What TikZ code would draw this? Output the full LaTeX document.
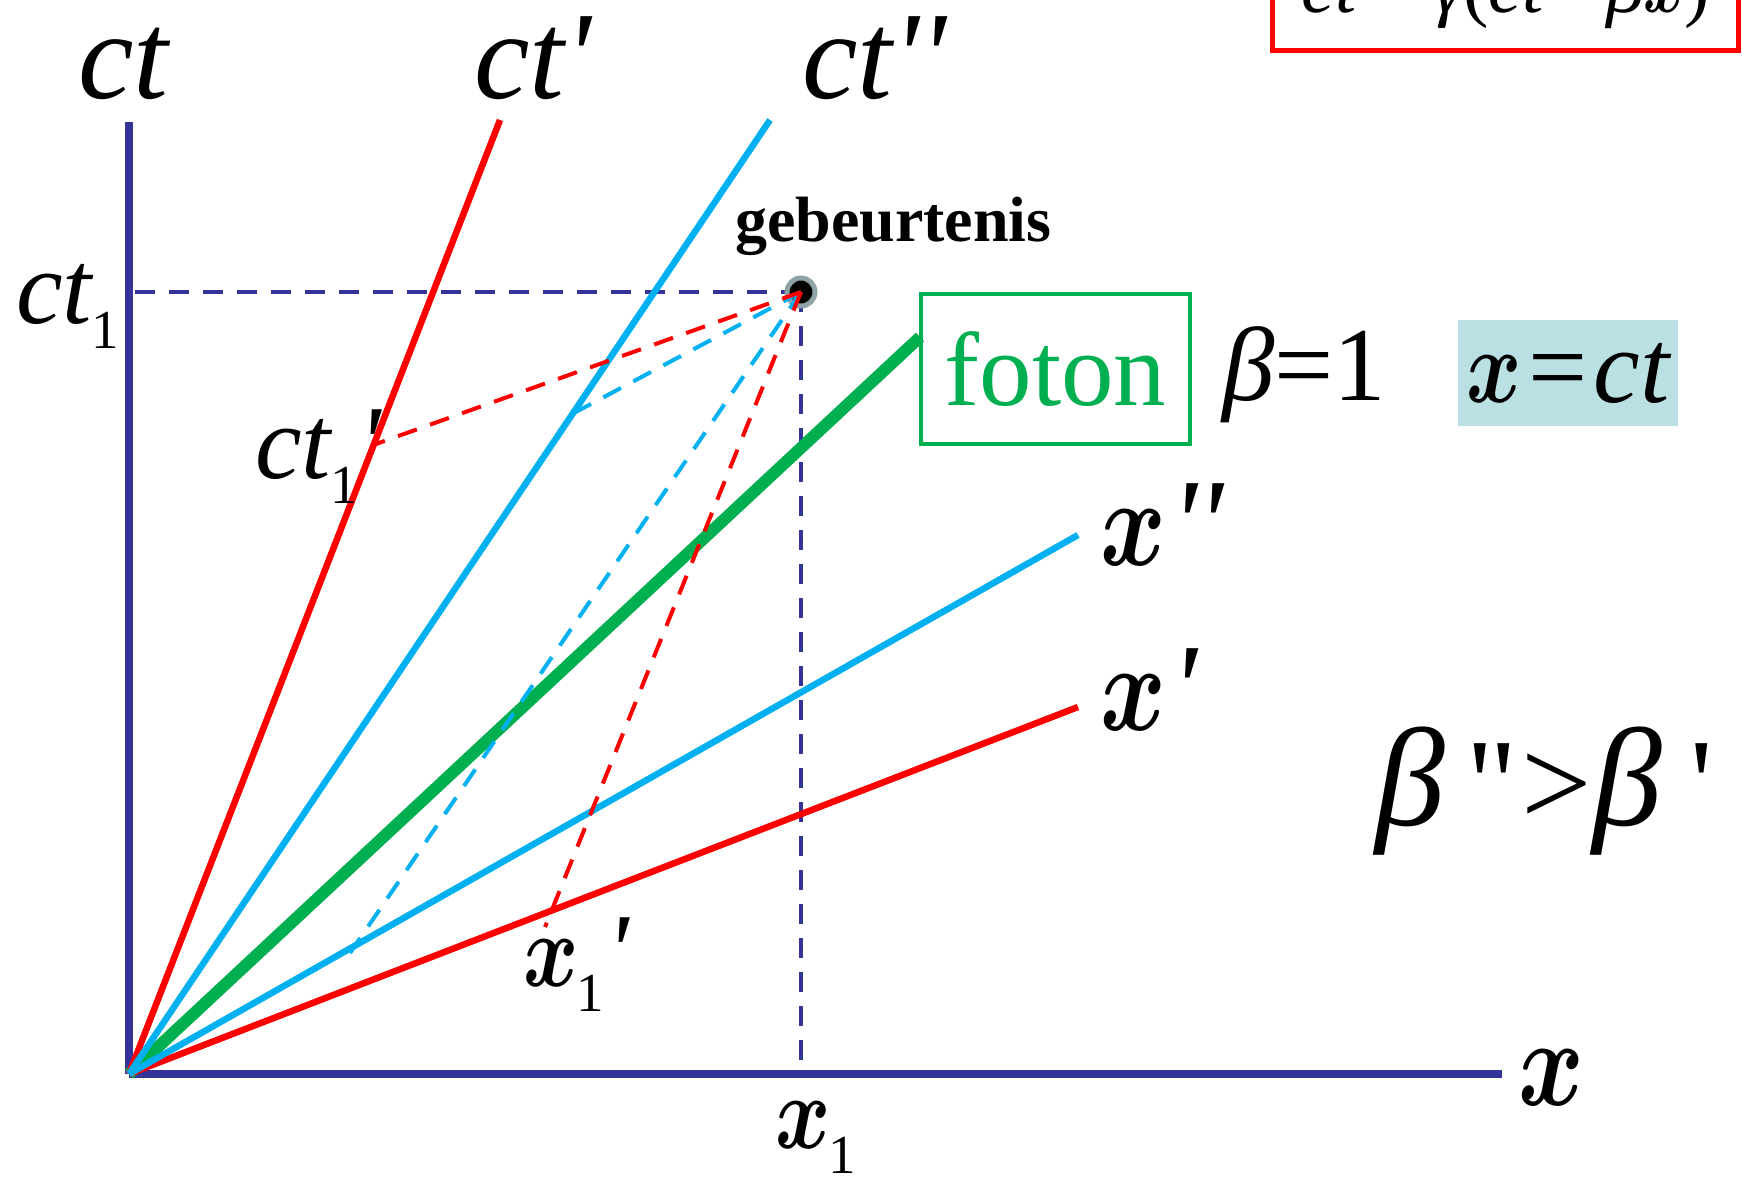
\documentclass[tikz,border=0pt]{standalone}
\usepackage{fix-cm}
\usepackage{fontspec}
\usepackage{graphicx}
\newfontfamily\tnr{Liberation Serif}
\definecolor{navy}{HTML}{333399}
\definecolor{pred}{HTML}{FF0000}
\definecolor{pblue}{HTML}{00B0F0}
\definecolor{pgreen}{HTML}{00B050}
\definecolor{pfill}{HTML}{BBE0E3}
\definecolor{pring}{HTML}{8FA3A6}
\newcommand\lsub[1]{\raisebox{-25pt}{\upshape\fontsize{55}{55}\selectfont #1}}
\newcommand\xx{\scalebox{0.8}[1]{\boldmath$x$}}
\begin{document}
\begin{tikzpicture}[x=1pt,y=-1pt,
  axisline/.style={draw=navy,line width=8pt},
  frameline/.style={line width=6.5pt},
  photon/.style={draw=pgreen,line width=12pt},
  dashline/.style={line width=4pt,dash pattern=on 20pt off 14pt},
  biglbl/.style={inner sep=0pt,anchor=base west,font=\tnr\itshape\fontsize{125}{130}\selectfont},
  smalllbl/.style={inner sep=0pt,anchor=base west,font=\tnr\itshape\fontsize{105}{110}\selectfont},
  plain/.style={inner sep=0pt,anchor=base west,font=\tnr\fontsize{105}{110}\selectfont}]
\useasboundingbox (0,0) rectangle (1742,1183);
\clip (0,0) rectangle (1742,1183);
% key points
\coordinate (O) at (129,1074);
\coordinate (ctTop) at (129,122);
\coordinate (xEnd) at (1502,1074);
\coordinate (ctp) at (500,120);
\coordinate (ctpp) at (770,120);
\coordinate (xpp) at (1078,535);
\coordinate (xp) at (1078,707);
\coordinate (ph) at (920,337);
\coordinate (E) at (801,292);
\coordinate (ct1) at (129,292);
\coordinate (x1) at (801,1074);
\coordinate (ct1p) at (376,444);
\coordinate (x1p) at (545,927);
\coordinate (ct1pp) at (574,413);
\coordinate (x1pp) at (350,953);
% axes
\draw[axisline] (O) -- (ctTop);
\draw[axisline] (O) -- (xEnd);
% projections on rest frame
\draw[draw=navy,dashline] (E) -- (ct1);
\draw[draw=navy,dashline] (E) -- (x1);
% world lines
\draw[photon] (O) -- (ph);
\draw[draw=pred,frameline] (O) -- (ctp);
\draw[draw=pred,frameline] (O) -- (xp);
\draw[draw=pblue,frameline] (O) -- (ctpp);
\draw[draw=pblue,frameline] (O) -- (xpp);
% event
\node[circle,fill=black,draw=pring,line width=5pt,minimum size=28pt,inner sep=0pt] (ev) at (E) {};
% projections
\draw[draw=pblue,dashline] (E) -- (ct1pp);
\draw[draw=pblue,dashline] (E) -- (x1pp);
\draw[draw=pred,dashline] (E) -- (ct1p);
\draw[draw=pred,dashline] (E) -- (x1p);
% labels
\node[biglbl] (lct) at (78,98) {ct};
\node[biglbl] (lctp) at (474,98) {ct'};
\node[biglbl] (lctpp) at (802,98) {ct''};
\node[biglbl] (lxpp) at (1100,565) {\xx\hspace{4pt}''};
\node[biglbl] (lxp) at (1100,730) {\xx\hspace{4pt}'};
\node[biglbl] (lx) at (1518,1105) {\xx};
\node[smalllbl] (lct1) at (16,323) {ct\lsub{1}};
\node[smalllbl] (lct1p) at (255,478) {ct\lsub{1}\hspace{0pt}'};
\node[smalllbl] (lx1) at (775,1148) {\xx\hspace{-2pt}\lsub{1}};
\node[smalllbl] (lx1p) at (523,986) {\xx\hspace{-2pt}\lsub{1}\hspace{2pt}'};
\node[inner sep=0pt,anchor=base west,font=\tnr\bfseries\fontsize{64}{70}\selectfont] (lev) at (735,241) {gebeurtenis};
\node[draw=pgreen,line width=4pt,minimum width=269pt,minimum height=150pt,inner sep=0pt,
      text=pgreen,font=\tnr\fontsize{105}{110}\selectfont] (foton) at (1055.5,369) {foton};
\node[plain] (beta1) at (1222,400) {{\itshape β}=1};
\node[fill=pfill,minimum width=220pt,minimum height=106pt,inner sep=0pt,
      font=\tnr\fontsize{105}{110}\selectfont] (xct) at (1568,373) {\xx\hspace{6pt}=\hspace{6pt}{\itshape ct}};
\node[inner sep=0pt,anchor=base west,font=\tnr\fontsize{125}{130}\selectfont] (bcmp) at (1375,825)
  {{\itshape\fontsize{140}{140}\selectfont β}\hspace{22pt}"\hspace{4pt}>{\itshape\fontsize{140}{140}\selectfont β}\hspace{28pt}'};
\node[draw=pred,line width=5pt,anchor=south west,minimum width=466pt,inner xsep=17pt,inner ysep=20pt,
      text depth=18pt,font=\tnr\fontsize{76}{80}\selectfont] (lt) at (1270,53)
  {{\itshape ct}'\hspace{10pt}=\hspace{10pt}{\itshape γ}({\itshape ct}\hspace{10pt}−\hspace{10pt}{\itshape β}\xx)};
\end{tikzpicture}
\end{document}
